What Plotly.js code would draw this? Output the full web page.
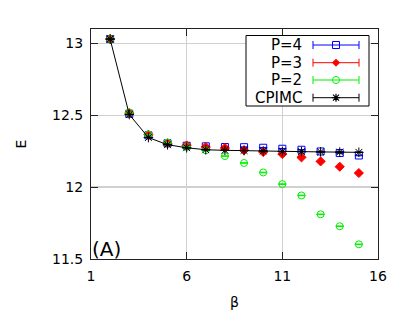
<!DOCTYPE html>
<html>
<head>
<meta charset="utf-8">
<script src="https://cdn.plot.ly/plotly-3.0.1.min.js"></script>
<style>html,body{margin:0;padding:0;background:#fff;}#chart{width:407px;height:325px;}</style>
</head>
<body>
<div id="chart"></div>
<script>
const beta = [2, 3, 4, 5, 6, 7, 8, 9, 10, 11, 12, 13, 14, 15];
const eP4 = [13.03, 12.51, 12.36, 12.305, 12.288, 12.284, 12.279, 12.278, 12.274, 12.267, 12.26, 12.248, 12.237, 12.22];
const eP3 = [13.03, 12.515, 12.365, 12.305, 12.29, 12.279, 12.272, 12.256, 12.244, 12.23, 12.207, 12.179, 12.142, 12.098];
const eP2 = [13.03, 12.52, 12.365, 12.31, 12.28, 12.256, 12.216, 12.168, 12.102, 12.021, 11.942, 11.811, 11.728, 11.602];
const eCPIMC = [13.03, 12.505, 12.345, 12.295, 12.274, 12.26, 12.256, 12.255, 12.251, 12.248, 12.247, 12.245, 12.244, 12.242];
const errP4 = [0.002, 0.002, 0.002, 0.002, 0.002, 0.002, 0.002, 0.002, 0.002, 0.002, 0.002, 0.002, 0.002, 0.002];
const errP3 = [0.002, 0.002, 0.002, 0.002, 0.002, 0.002, 0.002, 0.002, 0.002, 0.002, 0.002, 0.002, 0.002, 0.002];
const errP2 = [0.002, 0.002, 0.002, 0.002, 0.002, 0.002, 0.002, 0.002, 0.002, 0.002, 0.002, 0.002, 0.002, 0.002];
const errCPIMC = [0.001, 0.001, 0.001, 0.001, 0.001, 0.001, 0.001, 0.001, 0.001, 0.001, 0.001, 0.001, 0.001, 0.001];
const seriesNames = ['P=4', 'P=3', 'P=2', 'CPIMC'];
const xTicks = [1, 6, 11, 16];
const yTicks = [11.5, 12, 12.5, 13];

const FONT = 'DejaVu Sans, sans-serif';
const BLUE = '#0000ff', RED = '#ff0000', GREEN = '#00f000', BLACK = '#000000';

function tr(y, err, name, color, symbol, size, mode, lineW) {
  return {
    x: beta, y: y, name: name, type: 'scatter', mode: mode,
    line: {color: color, width: lineW || 1},
    marker: {symbol: symbol, size: size, color: color, line: {color: color, width: 1}},
    error_y: {type: 'data', array: err, visible: true, color: color, thickness: 1, width: 4},
    showlegend: false, cliponaxis: false
  };
}

const data = [
  tr(eP4, errP4, seriesNames[0], BLUE, 'square-open', 7, 'markers'),
  tr(eP3, errP3, seriesNames[1], RED, 'diamond', 7, 'markers'),
  tr(eP2, errP2, seriesNames[2], GREEN, 'circle-open', 7, 'markers'),
  tr(eCPIMC, errCPIMC, seriesNames[3], BLACK, 'asterisk-open', 8, 'lines+markers', 1)
];

// custom gnuplot-style legend (paper coords; plot area 287x230 px)
const W = 287, H = 230;
const colors = [BLUE, RED, GREEN, BLACK];
const rowsY = [45, 62.7, 80, 97.7];
const px = v => (v - 91) / W;
const py = v => (259 - v) / H;
const shapes = [{
  type: 'rect', xref: 'paper', yref: 'paper',
  x0: px(246), x1: px(369), y0: py(106), y1: py(35.5),
  line: {color: '#000', width: 1}, fillcolor: '#fff', layer: 'above'
}];
const annotations = [];
rowsY.forEach((ry, i) => {
  const c = colors[i];
  const yc = py(ry);
  shapes.push({type: 'line', xref: 'paper', yref: 'paper', x0: px(313), x1: px(359), y0: yc, y1: yc, line: {color: c, width: 1}, layer: 'above'});
  [313, 359].forEach(xx => shapes.push({type: 'line', xref: 'paper', yref: 'paper', x0: px(xx), x1: px(xx), y0: py(ry - 4), y1: py(ry + 4), line: {color: c, width: 1}, layer: 'above'}));
  const mx = 336;
  if (i === 0) {
    shapes.push({type: 'rect', xref: 'paper', yref: 'paper', x0: px(mx - 3.5), x1: px(mx + 3.5), y0: py(ry + 3.5), y1: py(ry - 3.5), line: {color: c, width: 1}, fillcolor: 'rgba(0,0,0,0)', layer: 'above'});
  } else if (i === 1) {
    shapes.push({type: 'path', xref: 'paper', yref: 'paper', path: `M${px(mx - 3.5)},${yc} L${px(mx)},${py(ry - 3.5)} L${px(mx + 3.5)},${yc} L${px(mx)},${py(ry + 3.5)} Z`, line: {color: c, width: 1}, fillcolor: c, layer: 'above'});
  } else if (i === 2) {
    shapes.push({type: 'circle', xref: 'paper', yref: 'paper', x0: px(mx - 3.5), x1: px(mx + 3.5), y0: py(ry + 3.5), y1: py(ry - 3.5), line: {color: c, width: 1}, fillcolor: 'rgba(0,0,0,0)', layer: 'above'});
  } else {
    const r = 4;
    shapes.push({type: 'path', xref: 'paper', yref: 'paper', path: `M${px(mx - r)},${py(ry)} L${px(mx + r)},${py(ry)} M${px(mx)},${py(ry - r)} L${px(mx)},${py(ry + r)} M${px(mx - 3)},${py(ry - 3)} L${px(mx + 3)},${py(ry + 3)} M${px(mx - 3)},${py(ry + 3)} L${px(mx + 3)},${py(ry - 3)}`, line: {color: c, width: 1.2}, layer: 'above'});
  }
  annotations.push({xref: 'paper', yref: 'paper', x: px(304), y: yc, xanchor: 'right', yanchor: 'middle', text: seriesNames[i], showarrow: false, font: {family: FONT, size: 15, color: '#000'}});
});
annotations.push({xref: 'paper', yref: 'paper', x: px(90), y: py(249), xanchor: 'left', yanchor: 'middle', text: '(A)', showarrow: false, font: {family: FONT, size: 20, color: '#000'}});

const axisCommon = {
  showline: true, linecolor: '#222', linewidth: 1, mirror: 'ticks',
  ticks: 'inside', ticklen: 7, tickwidth: 1, tickcolor: '#222',
  showgrid: true, gridcolor: '#d0d0d0', gridwidth: 1.3, zeroline: false,
  tickfont: {family: FONT, size: 14, color: '#000'}
};

const layout = {
  width: 407, height: 325,
  margin: {l: 91, r: 29, t: 29, b: 66, pad: 0},
  paper_bgcolor: '#fff', plot_bgcolor: '#fff',
  showlegend: false,
  font: {family: FONT, size: 14, color: '#000'},
  xaxis: Object.assign({}, axisCommon, {
    range: [1, 16], tickmode: 'array', tickvals: xTicks, ticktext: xTicks.map(String),
    ticklabelstandoff: 4,
    title: {text: 'β', font: {family: FONT, size: 14}, standoff: 14}
  }),
  yaxis: Object.assign({}, axisCommon, {
    range: [11.5, 13.1], tickmode: 'array', tickvals: yTicks, ticktext: yTicks.map(String),
    ticklabelstandoff: 4,
    title: {text: 'E', font: {family: FONT, size: 14}, standoff: 22}
  }),
  shapes: shapes,
  annotations: annotations
};

Plotly.newPlot('chart', data, layout, {staticPlot: true, displayModeBar: false});
</script>
</body>
</html>
